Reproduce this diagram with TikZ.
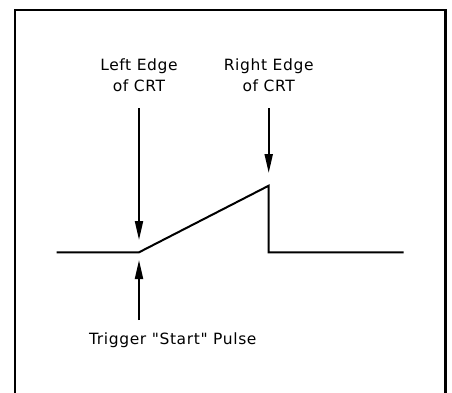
\documentclass[tikz,border=0pt]{standalone}
\usepackage{fontspec}
\newfontfamily\lblfont{DejaVu Sans}[LetterSpace=4]
\usetikzlibrary{arrows.meta}
\begin{document}
\begin{tikzpicture}[x=1pt,y=-1pt,
  lbl/.style={font=\lblfont\fontsize{15.5}{18}\selectfont, anchor=base, inner sep=0pt},
  wave/.style={line width=2pt, line join=miter},
  pointer/.style={line width=2pt, -{Triangle[length=19pt,width=8pt]}},
  frame/.style={line width=2.6pt}]
\useasboundingbox (0,0) rectangle (452,392);
\fill[white] (0,0) rectangle (452,392);
% frame (bottom edge lies outside the picture)
\draw[frame] (15,400) -- (15,10) -- (445.5,10) -- (445.5,400);
% waveform
\coordinate (w0) at (56.7,252.3);
\coordinate (w1) at (139,252.3);
\coordinate (w2) at (268.7,185.7);
\coordinate (w3) at (268.7,252.3);
\coordinate (w4) at (403.7,252.3);
\draw[wave] (w0) -- (w1) -- (w2) -- (w3) -- (w4);
% labels
\node[lbl] (l1) at (139,70) {Left Edge};
\node[lbl] (l2) at (139,91.7) {of CRT};
\node[lbl] (r1) at (268.7,70) {Right Edge};
\node[lbl] (r2) at (268.7,91.7) {of CRT};
\node[lbl] (tr) at (172.8,344) {Trigger "Start" Pulse};
% arrows
\coordinate (la0) at (139,108);
\coordinate (la1) at (139,240);
\coordinate (ra0) at (268.7,108);
\coordinate (ra1) at (268.7,173);
\coordinate (ua0) at (139,320);
\coordinate (ua1) at (139,260);
\draw[pointer] (la0) -- (la1);
\draw[pointer] (ra0) -- (ra1);
\draw[pointer] (ua0) -- (ua1);
\end{tikzpicture}
\end{document}
